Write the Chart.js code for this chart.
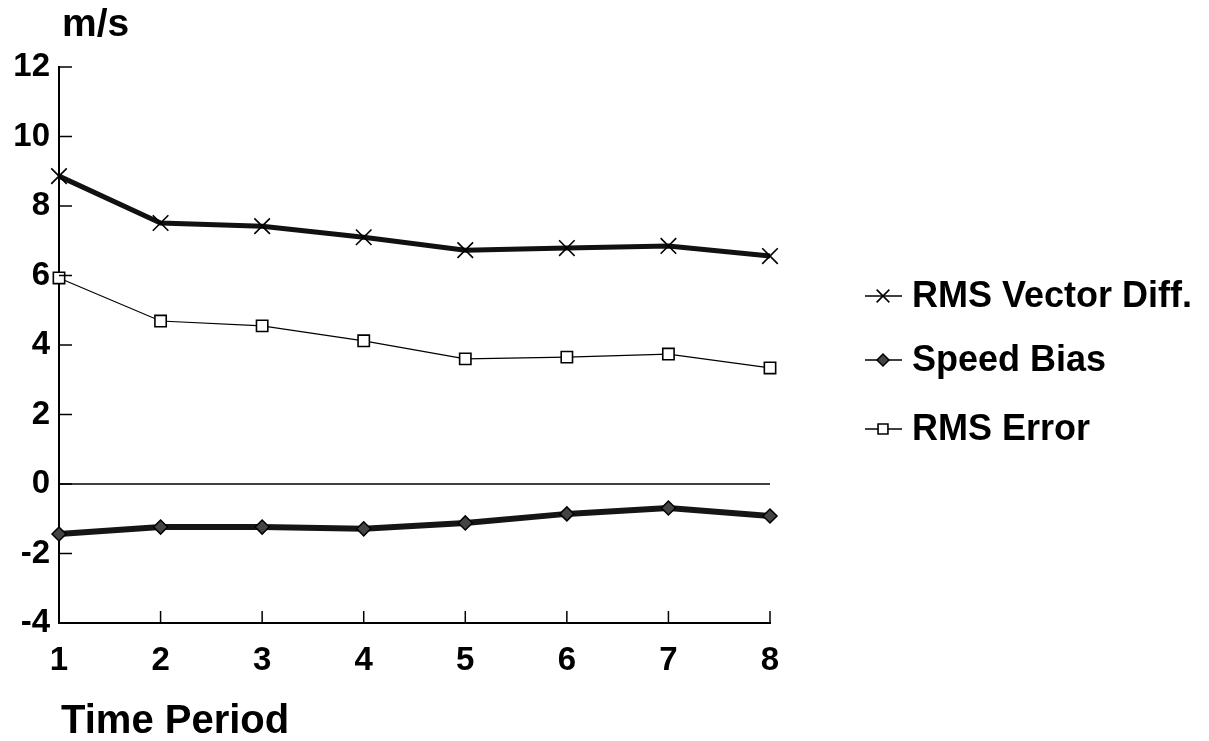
<!DOCTYPE html>
<html>
<head>
<meta charset="utf-8">
<script src="https://cdn.jsdelivr.net/npm/chart.js@4/dist/chart.umd.min.js"></script>
<style>
  html, body { margin: 0; padding: 0; background: #fff; }
  #wrap { width: 1209px; height: 741px; position: relative; }
</style>
</head>
<body>
<div id="wrap"><canvas id="chart" width="1209" height="741"></canvas></div>
<script>
// Chart data
const periods = ['1', '2', '3', '4', '5', '6', '7', '8'];
const rmsVectorDiff = [8.86, 7.51, 7.42, 7.1, 6.73, 6.79, 6.85, 6.56];
const speedBias = [-1.44, -1.24, -1.24, -1.29, -1.12, -0.86, -0.69, -0.92];
const rmsError = [5.93, 4.69, 4.55, 4.12, 3.6, 3.65, 3.74, 3.34];
const zeroLine = [0, 0, 0, 0, 0, 0, 0, 0];
const yTicks = [-4, -2, 0, 2, 4, 6, 8, 10, 12];

const FONT = '"Liberation Sans", Arial, Helvetica, sans-serif';

// Inward tick marks, axis texts and the legend
const decorPlugin = {
  id: 'decor',
  afterDraw(chart) {
    const ctx = chart.ctx;
    const x = chart.scales.x;
    const y = chart.scales.y;
    const area = chart.chartArea;

    ctx.save();
    ctx.strokeStyle = '#000';
    ctx.lineWidth = 1.5;
    yTicks.forEach(v => {
      const py = y.getPixelForValue(v);
      ctx.beginPath();
      ctx.moveTo(area.left, py);
      ctx.lineTo(area.left + 13, py);
      ctx.stroke();
    });
    periods.forEach((p, i) => {
      const px = x.getPixelForValue(i);
      ctx.beginPath();
      ctx.moveTo(px, area.bottom);
      ctx.lineTo(px, area.bottom - 12);
      ctx.stroke();
    });

    // unit and axis title
    ctx.fillStyle = '#000';
    ctx.textAlign = 'left';
    ctx.textBaseline = 'alphabetic';
    ctx.font = 'bold 39px ' + FONT;
    ctx.fillText('m/s', 62, 36);
    ctx.font = 'bold 40px ' + FONT;
    ctx.fillText('Time Period', 61, 733);

    // legend
    const rows = [296, 360, 429];
    chart.data.datasets.filter(ds => !ds.hideLegend).forEach((ds, i) => {
      const cy = rows[i];
      ctx.strokeStyle = '#000';
      ctx.lineWidth = 1.5;
      ctx.beginPath();
      ctx.moveTo(865, cy);
      ctx.lineTo(902, cy);
      ctx.stroke();
      ctx.fillStyle = ds.pointBackgroundColor;
      ctx.strokeStyle = '#000';
      ctx.lineWidth = ds.pointBorderWidth;
      Chart.helpers.drawPoint(ctx, {
        pointStyle: ds.pointStyle,
        radius: ds.legendRadius,
        rotation: 0,
        borderWidth: ds.pointBorderWidth
      }, 883, cy);
      ctx.fillStyle = '#000';
      ctx.font = 'bold 36px ' + FONT;
      ctx.textBaseline = 'middle';
      ctx.fillText(ds.label, 912, cy + 1);
    });
    ctx.restore();
  }
};

const ctx = document.getElementById('chart').getContext('2d');
const chart = new Chart(ctx, {
  type: 'line',
  data: {
    labels: periods,
    datasets: [
      {
        label: 'RMS Vector Diff.',
        data: rmsVectorDiff,
        borderColor: '#111',
        borderWidth: 5,
        pointStyle: 'crossRot',
        pointRadius: 11,
        pointBorderWidth: 1.6,
        pointBorderColor: '#000',
        pointBackgroundColor: '#000',
        legendRadius: 9,
        tension: 0,
        clip: false
      },
      {
        label: 'Speed Bias',
        data: speedBias,
        borderColor: '#151515',
        borderWidth: 6,
        pointStyle: 'rectRot',
        pointRadius: 7,
        pointBorderWidth: 1.5,
        pointBorderColor: '#000',
        pointBackgroundColor: '#444',
        legendRadius: 6,
        tension: 0,
        clip: false
      },
      {
        label: 'RMS Error',
        data: rmsError,
        borderColor: '#000',
        borderWidth: 1.2,
        pointStyle: 'rect',
        pointRadius: 8,
        pointBorderWidth: 1.6,
        pointBorderColor: '#000',
        pointBackgroundColor: '#fff',
        legendRadius: 7,
        tension: 0,
        clip: false
      },
      {
        label: 'zero',
        data: zeroLine,
        borderColor: '#000',
        borderWidth: 1.5,
        pointRadius: 0,
        hideLegend: true,
        tension: 0,
        clip: false
      }
    ]
  },
  options: {
    responsive: false,
    animation: false,
    events: [],
    layout: {
      padding: { left: 0, top: 67, right: 439, bottom: 0 }
    },
    plugins: {
      legend: { display: false },
      title: { display: false },
      tooltip: { enabled: false }
    },
    scales: {
      x: {
        type: 'category',
        offset: false,
        grid: { display: false, drawTicks: false },
        border: { display: true, color: '#000', width: 2 },
        ticks: {
          color: '#000',
          padding: 18,
          maxRotation: 0,
          font: { family: FONT, size: 33, weight: 'bold' }
        },
        afterFit(scale) { scale.height = 118; }
      },
      y: {
        min: -4,
        max: 12,
        grid: { display: false, drawTicks: false },
        border: { display: true, color: '#000', width: 2 },
        ticks: {
          stepSize: 2,
          color: '#000',
          padding: 9,
          font: { family: FONT, size: 33, weight: 'bold' }
        },
        afterFit(scale) { scale.width = 59; }
      }
    }
  },
  plugins: [decorPlugin]
});
</script>
</body>
</html>
